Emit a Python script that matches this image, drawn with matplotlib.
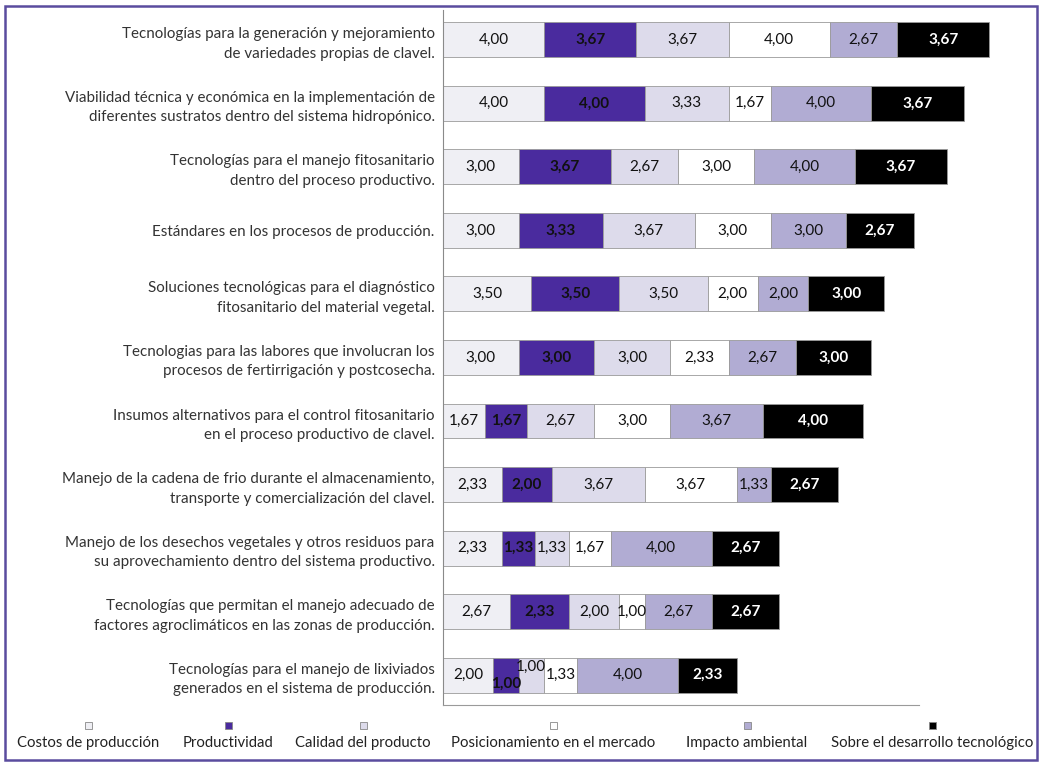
import numpy as np
import matplotlib.pyplot as plt
from matplotlib.patches import Rectangle

plt.rcParams['font.family'] = ['Lato', 'DejaVu Sans']

categorias = [
    "Tecnologías para la generación y mejoramiento\nde variedades propias de clavel.",
    "Viabilidad técnica y económica en la implementación de\ndiferentes sustratos dentro del sistema hidropónico.",
    "Tecnologías para el manejo fitosanitario\ndentro del proceso productivo.",
    "Estándares en los procesos de producción.",
    "Soluciones tecnológicas para el diagnóstico\nfitosanitario del material vegetal.",
    "Tecnologias para las labores que involucran los\nprocesos de fertirrigación y postcosecha.",
    "Insumos alternativos para el control fitosanitario\nen el proceso productivo de clavel.",
    "Manejo de la cadena de frio durante el almacenamiento,\ntransporte y comercialización del clavel.",
    "Manejo de los desechos vegetales y otros residuos para\nsu aprovechamiento dentro del sistema productivo.",
    "Tecnologías que permitan el manejo adecuado de\nfactores agroclimáticos en las zonas de producción.",
    "Tecnologías para el manejo de lixiviados\ngenerados en el sistema de producción.",
]

series = [
    "Costos de producción",
    "Productividad",
    "Calidad del producto",
    "Posicionamiento en el mercado",
    "Impacto ambiental",
    "Sobre el desarrollo tecnológico",
]

costos = [4.00, 4.00, 3.00, 3.00, 3.50, 3.00, 1.67, 2.33, 2.33, 2.67, 2.00]
productividad = [3.67, 4.00, 3.67, 3.33, 3.50, 3.00, 1.67, 2.00, 1.33, 2.33, 1.00]
calidad = [3.67, 3.33, 2.67, 3.67, 3.50, 3.00, 2.67, 3.67, 1.33, 2.00, 1.00]
posicionamiento = [4.00, 1.67, 3.00, 3.00, 2.00, 2.33, 3.00, 3.67, 1.67, 1.00, 1.33]
impacto = [2.67, 4.00, 4.00, 3.00, 2.00, 2.67, 3.67, 1.33, 4.00, 2.67, 4.00]
desarrollo = [3.67, 3.67, 3.67, 2.67, 3.00, 3.00, 4.00, 2.67, 2.67, 2.67, 2.33]

valores = [costos, productividad, calidad, posicionamiento, impacto, desarrollo]
colores = ['#efeff4', '#4a2b9e', '#dddbeb', '#ffffff', '#b1acd3', '#000000']
col_texto = ['#111111', '#111111', '#111111', '#111111', '#111111', '#ffffff']
negrita = ['normal', 'bold', 'normal', 'normal', 'normal', 'bold']

fig = plt.figure(figsize=(10.41, 7.63), dpi=100)
ax = fig.add_axes([0.4256, 0.076, 0.564, 0.911])

M = np.array(valores)
y = np.arange(len(categorias))
izq = np.zeros(len(categorias))
for i, serie in enumerate(series):
    v = M[i]
    barras = ax.barh(y, v, left=izq, height=0.55, color=colores[i],
                     edgecolor='#9a9a9a', linewidth=0.6, label=serie)
    for j, (b, val) in enumerate(zip(barras, v)):
        # etiquetas estrechas contiguas: se desplazan para no chocar
        dy = 0
        if val <= 1.0:
            if i + 1 < len(series) and M[i + 1, j] <= 1.0:
                dy = 0.13
            elif i > 0 and M[i - 1, j] <= 1.0:
                dy = -0.13
        ax.text(b.get_x() + b.get_width() / 2, b.get_y() + b.get_height() / 2 + dy,
                f"{val:.2f}".replace('.', ','), ha='center', va='center',
                fontsize=11, color=col_texto[i], fontweight=negrita[i])
    izq += v

ax.set_xlim(0, 23.3)
ax.set_ylim(10.47, -0.47)
ax.set_yticks(y)
ax.set_yticklabels(categorias, fontsize=10.9, color='#333333', ha='right',
                   linespacing=1.5)
ax.tick_params(axis='y', length=0, pad=6)
ax.set_xticks([])
for s in ['top', 'right']:
    ax.spines[s].set_visible(False)
ax.spines['left'].set_color('#8a8a8a')
ax.spines['bottom'].set_color('#9a9a9a')
ax.spines['bottom'].set_linestyle((0, (1, 1)))
ax.spines['bottom'].set_bounds(0, 18.9)

# leyenda: marcador encima del texto
x_ley = [88, 228, 363, 553, 747, 932]
for i, serie in enumerate(series):
    xf = x_ley[i] / 1041
    fig.text(xf, 1 - 743 / 763, serie, ha='center', va='center',
             fontsize=10.7, color='#222222')
    fig.add_artist(Rectangle((xf - 3.5 / 1041, 1 - 729 / 763), 7 / 1041, 7 / 763,
                             transform=fig.transFigure, facecolor=colores[i],
                             edgecolor='#888888', linewidth=0.6))

# marco exterior
fig.add_artist(Rectangle((5 / 1041, 3 / 763), 1032 / 1041, 754 / 763,
                         transform=fig.transFigure, fill=False,
                         edgecolor='#5a4c9e', linewidth=1.8))

fig.savefig('out.png', dpi=100)
